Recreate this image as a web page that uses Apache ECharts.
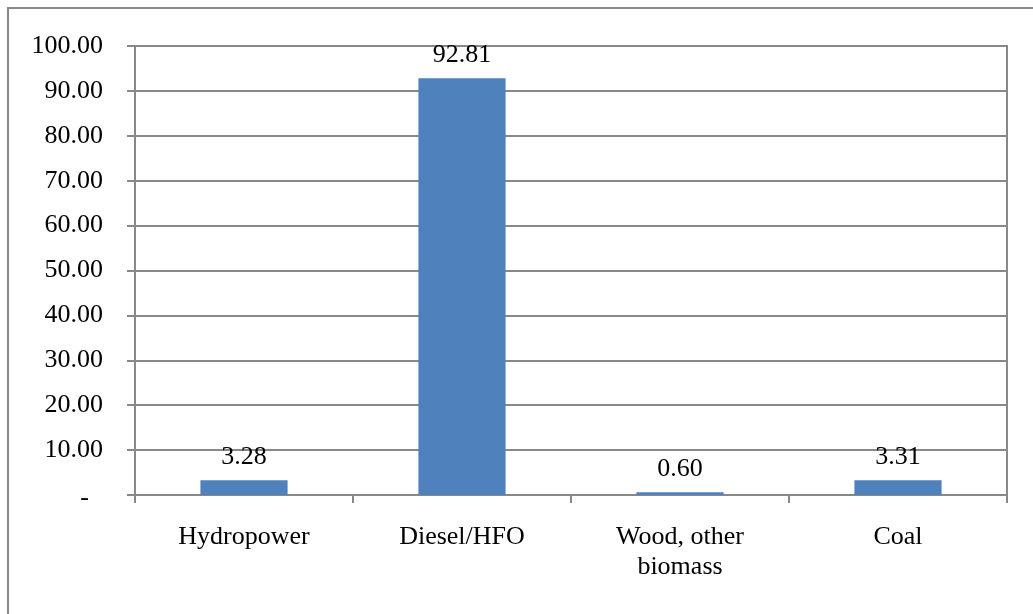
<!DOCTYPE html>
<html>
<head>
<meta charset="utf-8">
<script src="https://cdn.jsdelivr.net/npm/echarts@6/dist/echarts.min.js"></script>
<style>
  html, body { margin: 0; padding: 0; background: #ffffff; }
  #chart { width: 1033px; height: 614px; }
</style>
</head>
<body>
<div id="chart"></div>
<script>
// Electricity generation share by source
const categories = ['Hydropower', 'Diesel/HFO', 'Wood, other\nbiomass', 'Coal'];
const shares = [3.28, 92.81, 0.60, 3.31];

const FONT = '"Liberation Serif", "Times New Roman", serif';
const LINE = '#888888';

const chart = echarts.init(document.getElementById('chart'), null, { renderer: 'canvas' });

chart.setOption({
  animation: false,
  backgroundColor: '#ffffff',
  graphic: [{
    // outer chart frame
    type: 'rect',
    shape: { x: 8, y: 8, width: 1060, height: 640 },
    style: { fill: 'none', stroke: LINE, lineWidth: 2 },
    silent: true
  }],
  grid: {
    left: 135, right: 26, top: 46, bottom: 119,
    show: true, borderColor: LINE, borderWidth: 2, backgroundColor: 'transparent'
  },
  xAxis: {
    type: 'category',
    data: categories,
    axisLine: { lineStyle: { color: LINE, width: 2 } },
    axisTick: { show: true, alignWithLabel: false, length: 8, lineStyle: { color: LINE, width: 2 } },
    axisLabel: {
      interval: 0, margin: 27, color: '#000000',
      fontFamily: FONT, fontSize: 26, lineHeight: 30
    },
    splitLine: { show: false }
  },
  yAxis: {
    type: 'value',
    min: 0, max: 100, interval: 10,
    axisLine: { show: true, lineStyle: { color: LINE, width: 2 } },
    axisTick: { show: true, length: 8, lineStyle: { color: LINE, width: 2 } },
    splitLine: { show: true, lineStyle: { color: LINE, width: 2 } },
    axisLabel: {
      margin: 32, color: '#000000', fontFamily: FONT, fontSize: 26,
      formatter: function (v) { return v === 0 ? '{dash|-}' : v.toFixed(2); },
      rich: {
        dash: { fontFamily: FONT, fontSize: 26, color: '#000000', padding: [7, 14, 0, 0] }
      }
    }
  },
  series: [{
    type: 'bar',
    data: shares,
    barWidth: '40%',
    itemStyle: { color: '#4f81bd' },
    label: {
      show: true, position: 'top', distance: 10,
      color: '#000000', fontFamily: FONT, fontSize: 26,
      formatter: function (p) { return p.value.toFixed(2); }
    }
  }]
});
</script>
</body>
</html>
